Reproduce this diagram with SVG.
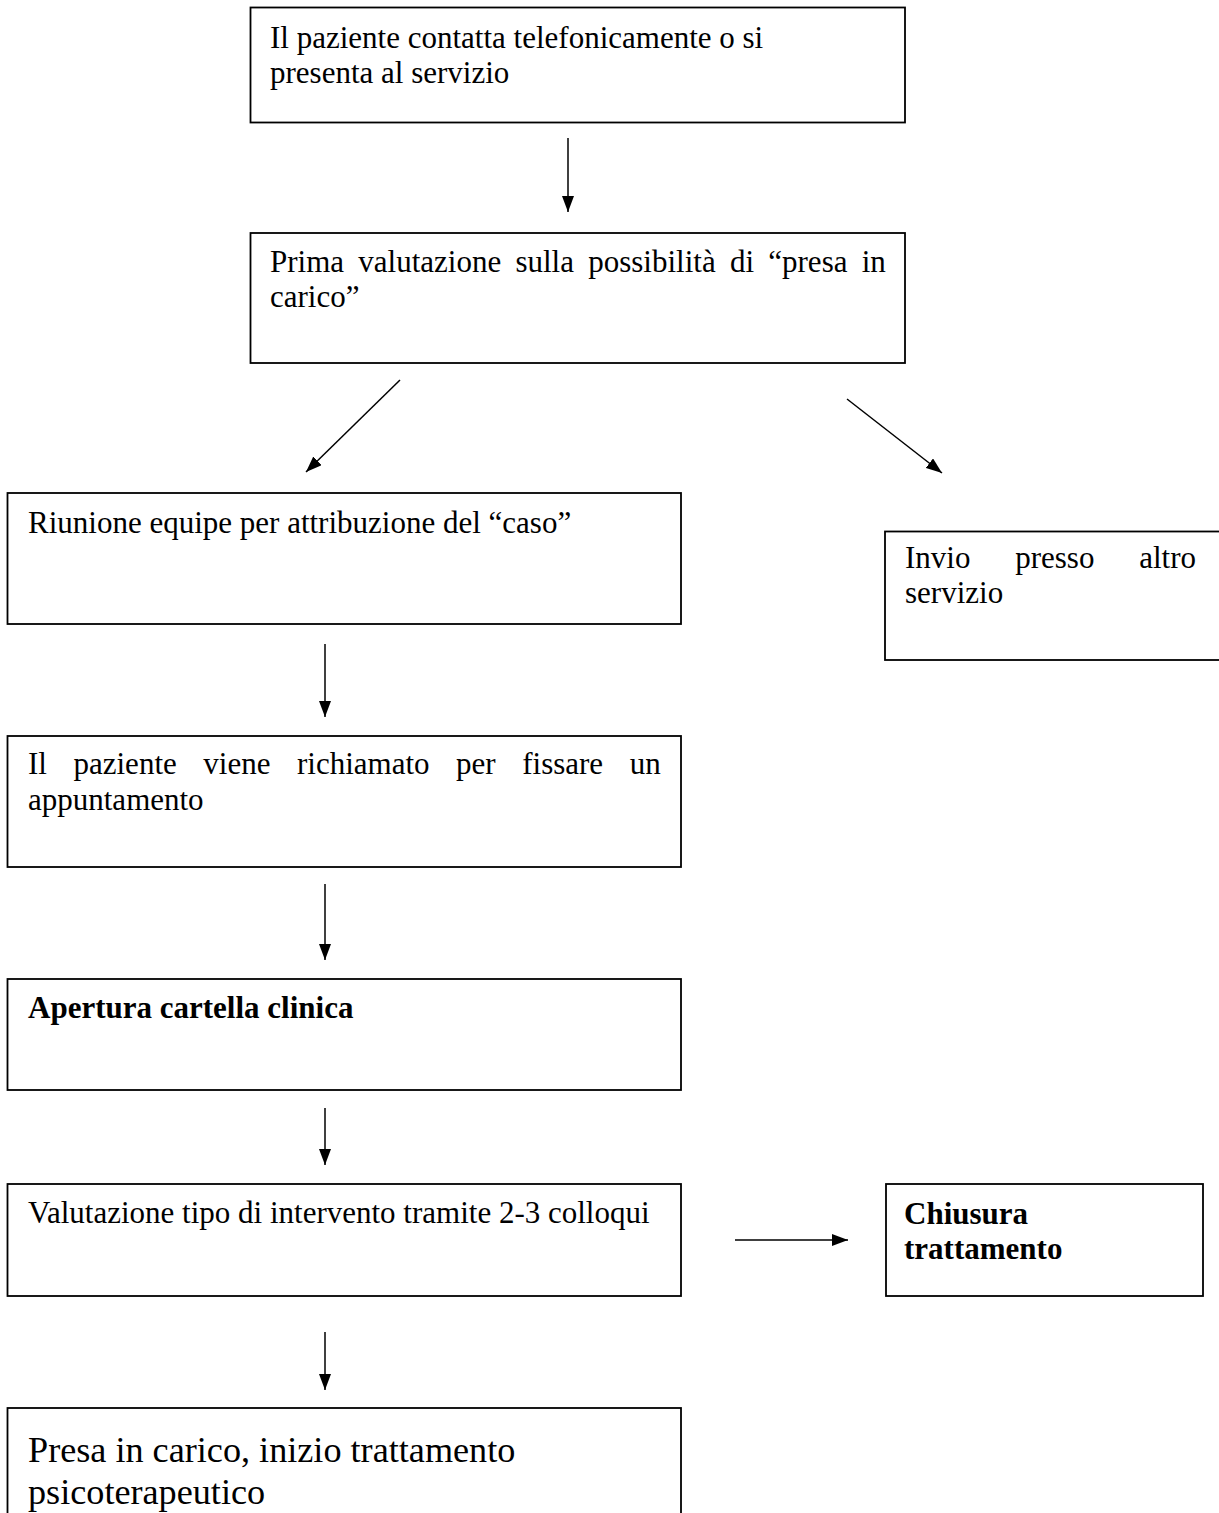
<svg xmlns="http://www.w3.org/2000/svg" width="1219" height="1513" viewBox="0 0 1219 1513">
<style>
.box{fill:#fff;stroke:#000;stroke-width:1.8}
.t{font-family:"Liberation Serif","Times New Roman",serif;font-size:31px;fill:#000}
.b{font-weight:bold}
.big{font-size:36.2px}
.c{stroke:#000;stroke-width:1.5;fill:none;marker-end:url(#ah)}
</style>
<defs>
<marker id="ah" markerUnits="userSpaceOnUse" markerWidth="16" markerHeight="12" refX="16" refY="6" orient="auto">
<path d="M0,0 L16,6 L0,12 Z" fill="#000"/>
</marker>
</defs>
<rect width="1219" height="1513" fill="#fff"/>
<g id="n1">
<rect class="box" x="250.5" y="7.5" width="654.5" height="115"/>
<text class="t" x="270" y="48">Il paziente contatta telefonicamente o si</text>
<text class="t" x="270" y="83">presenta al servizio</text>
</g>
<g id="n2">
<rect class="box" x="250.5" y="233" width="654.5" height="130"/>
<text class="t" x="270" y="272" word-spacing="6.5">Prima valutazione sulla possibilità di “presa in</text>
<text class="t" x="270" y="307">carico”</text>
</g>
<g id="n3">
<rect class="box" x="7.5" y="493" width="673.5" height="131"/>
<text class="t" x="28" y="533">Riunione equipe per attribuzione del “caso”</text>
</g>
<g id="n4">
<rect class="box" x="885" y="531.5" width="345" height="128.5"/>
<text class="t" x="905" y="568" word-spacing="37">Invio presso altro</text>
<text class="t" x="905" y="603">servizio</text>
</g>
<g id="n5">
<rect class="box" x="7.5" y="736" width="673.5" height="131"/>
<text class="t" x="28" y="774" word-spacing="18.8">Il paziente viene richiamato per fissare un</text>
<text class="t" x="28" y="810">appuntamento</text>
</g>
<g id="n6">
<rect class="box" x="7.5" y="979" width="673.5" height="111"/>
<text class="t b" x="28" y="1018">Apertura cartella clinica</text>
</g>
<g id="n7">
<rect class="box" x="7.5" y="1184" width="673.5" height="112"/>
<text class="t" x="28" y="1223">Valutazione tipo di intervento tramite 2-3 colloqui</text>
</g>
<g id="n8">
<rect class="box" x="886" y="1184" width="317" height="112"/>
<text class="t b" x="904" y="1224">Chiusura</text>
<text class="t b" x="904" y="1259">trattamento</text>
</g>
<g id="n9">
<rect class="box" x="7.5" y="1408" width="673.5" height="130"/>
<text class="t big" x="28" y="1462">Presa in carico, inizio trattamento</text>
<text class="t big" x="28" y="1504">psicoterapeutico</text>
</g>
<g id="connectors">
<line class="c" x1="568" y1="138" x2="568" y2="212"/>
<line class="c" x1="400" y1="380" x2="306" y2="472"/>
<line class="c" x1="847" y1="399" x2="942" y2="473"/>
<line class="c" x1="325" y1="644" x2="325" y2="717"/>
<line class="c" x1="325" y1="884" x2="325" y2="960"/>
<line class="c" x1="325" y1="1108" x2="325" y2="1165"/>
<line class="c" x1="735" y1="1240" x2="848" y2="1240"/>
<line class="c" x1="325" y1="1332" x2="325" y2="1390"/>
</g>
</svg>
